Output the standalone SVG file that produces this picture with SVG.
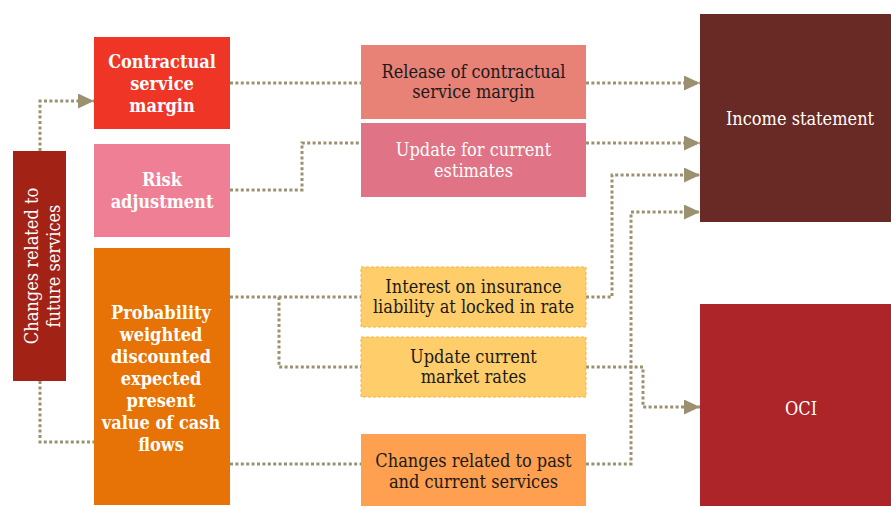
<svg xmlns="http://www.w3.org/2000/svg" width="891" height="506" viewBox="0 0 891 506">
<style>
text{font-family:'DejaVu Serif Condensed','DejaVu Serif',serif;font-stretch:condensed;font-size:18px;text-anchor:middle}
.b{font-weight:bold;fill:#fff}
.w{fill:#fff}
.k{fill:#1a1a1a}
.c{fill:none;stroke:#9b9170;stroke-width:3;stroke-dasharray:3 2.4}
.dash{stroke:#f5b53c;stroke-width:1;stroke-dasharray:3 2}
</style>
<defs>
<marker id="arr" markerUnits="userSpaceOnUse" markerWidth="16" markerHeight="15" viewBox="0 0 16 15" refX="16" refY="7.5" orient="auto">
<path d="M0,0 L16,7.5 L0,15 z" fill="#9b9170"/>
</marker>
</defs>
<rect width="891" height="506" fill="#fff"/>
<g id="connectors">
<path class="c" d="M40,151 V101 H94" marker-end="url(#arr)"/>
<path class="c" d="M40,381 V442 H94"/>
<path class="c" d="M230,83 H361"/>
<path class="c" d="M230,190 H302 V143 H361"/>
<path class="c" d="M586,83 H700" marker-end="url(#arr)"/>
<path class="c" d="M586,143 H700" marker-end="url(#arr)"/>
<path class="c" d="M230,297 H361"/>
<path class="c" d="M279,297 V367 H361"/>
<path class="c" d="M586,297 H612 V175 H700" marker-end="url(#arr)"/>
<path class="c" d="M586,367 H643 V407 H700" marker-end="url(#arr)"/>
<path class="c" d="M230,464 H361"/>
<path class="c" d="M586,464 H631 V212 H700" marker-end="url(#arr)"/>
</g>
<g id="future">
<rect x="13" y="151" width="53" height="230" fill="#a32216"/>
<g transform="translate(0,266) rotate(-90)">
<text class="w" x="0" y="38">Changes related to</text>
<text class="w" x="0" y="60">future services</text>
</g>
</g>
<g id="csm">
<rect x="94" y="37" width="136" height="92" fill="#ef3626"/>
<text class="b" x="162" y="68">Contractual</text>
<text class="b" x="162" y="90">service</text>
<text class="b" x="162" y="112">margin</text>
</g>
<g id="risk">
<rect x="94" y="144" width="136" height="93" fill="#ef7f94"/>
<text class="b" x="162" y="186">Risk</text>
<text class="b" x="162" y="208">adjustment</text>
</g>
<g id="pv">
<rect x="94" y="248" width="136" height="257" fill="#e77206"/>
<text class="b" x="161" y="319">Probability</text>
<text class="b" x="161" y="341">weighted</text>
<text class="b" x="161" y="363">discounted</text>
<text class="b" x="161" y="385">expected</text>
<text class="b" x="161" y="407">present</text>
<text class="b" x="161" y="429">value of cash</text>
<text class="b" x="161" y="451">flows</text>
</g>
<g id="release">
<rect x="361" y="45" width="225" height="74" fill="#e88176"/>
<text class="k" x="473.5" y="78">Release of contractual</text>
<text class="k" x="473.5" y="98">service margin</text>
</g>
<g id="estimates">
<rect x="361" y="123" width="225" height="74" fill="#e07385"/>
<text class="w" x="473.5" y="156">Update for current</text>
<text class="w" x="473.5" y="177">estimates</text>
</g>
<g id="interest">
<rect class="dash" x="361" y="267" width="225" height="60" fill="#ffcd69"/>
<text class="k" x="473.5" y="293">Interest on insurance</text>
<text class="k" x="473.5" y="313">liability at locked in rate</text>
</g>
<g id="market">
<rect class="dash" x="361" y="337" width="225" height="60" fill="#ffcd69"/>
<text class="k" x="473.5" y="363">Update current</text>
<text class="k" x="473.5" y="383">market rates</text>
</g>
<g id="past">
<rect x="361" y="434" width="225" height="72" fill="#fea04f"/>
<text class="k" x="473.5" y="467">Changes related to past</text>
<text class="k" x="473.5" y="488">and current services</text>
</g>
<g id="income">
<rect x="700" y="14" width="191" height="208" fill="#692a26"/>
<text class="w" x="800" y="125">Income statement</text>
</g>
<g id="oci">
<rect x="700" y="304" width="191" height="202" fill="#ad2529"/>
<text class="w" x="801" y="415">OCI</text>
</g>
</svg>
